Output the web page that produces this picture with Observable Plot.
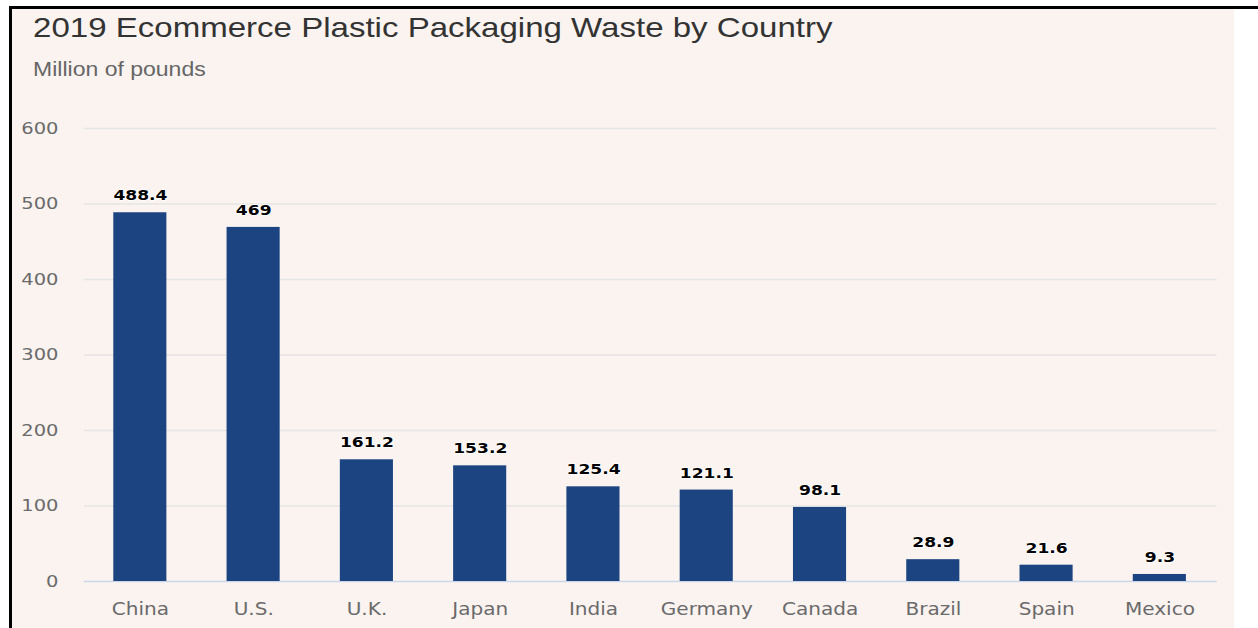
<!DOCTYPE html>
<html>
<head>
<meta charset="utf-8">
<script src="https://cdn.jsdelivr.net/npm/d3@7"></script>
<script src="https://cdn.jsdelivr.net/npm/@observablehq/plot@0.6"></script>
<style>
  html, body { margin: 0; padding: 0; background: #ffffff; }
  body { width: 1258px; height: 628px; position: relative; overflow: hidden; }
  #topline { position: absolute; left: 9px; top: 6px; width: 1249px; height: 3px; background: #000; }
  #panel { position: absolute; left: 9px; top: 9px; width: 1225px; height: 619px;
           border-left: 3px solid #000; background: #faf3f0; box-sizing: border-box; }
  #wrap { position: absolute; left: 0; top: 0; width: 1066px; height: 628px;
          transform: scaleX(1.18); transform-origin: 0 0; }
  #title { position: absolute; left: 28px; top: 14px; font-family: "Liberation Sans", Arial, sans-serif;
           font-size: 28px; line-height: 28px; color: #333; white-space: nowrap; }
  #subtitle { position: absolute; left: 28px; top: 60px; font-family: "Liberation Sans", Arial, sans-serif;
              font-size: 19.5px; line-height: 19.5px; color: #666; white-space: nowrap; }
  #chart { position: absolute; left: 0; top: 89px; }
</style>
</head>
<body>
<div id="panel"></div>
<div id="topline"></div>
<div id="wrap">
  <div id="title">2019 Ecommerce Plastic Packaging Waste by Country</div>
  <div id="subtitle">Million of pounds</div>
  <div id="chart"></div>
</div>
<script>
const countries = ["China", "U.S.", "U.K.", "Japan", "India", "Germany", "Canada", "Brazil", "Spain", "Mexico"];
const values = [488.4, 469, 161.2, 153.2, 125.4, 121.1, 98.1, 28.9, 21.6, 9.3];
const yTicks = [0, 100, 200, 300, 400, 500, 600];

const data = countries.map((c, i) => ({country: c, value: values[i]}));

const chart = Plot.plot({
  width: 1045,
  height: 537,
  marginLeft: 71,
  marginRight: 14,
  marginTop: 39,
  marginBottom: 45,
  style: {background: "transparent", fontFamily: "DejaVu Sans", fontSize: "16.5px", color: "#6a6a6a", overflow: "visible"},
  x: {domain: countries, paddingInner: 0.53, paddingOuter: 0.265, label: null},
  y: {domain: [0, 600], label: null},
  marks: [
    Plot.ruleY(yTicks.filter(d => d > 0), {stroke: "#e6e6e6", strokeWidth: 1.5}),
    Plot.ruleY([0], {stroke: "#ccd6eb", strokeWidth: 1.5}),
    Plot.barY(data, {x: "country", y: "value", fill: "#1c4480"}),
    Plot.text(data, {x: "country", y: "value", text: d => String(d.value), dy: -17,
      fontWeight: "bold", fontSize: 14.5, fill: "#000", stroke: "#ffffff", strokeWidth: 1.5}),
    Plot.axisX({tickSize: 0, tickPadding: 21, fontSize: 17, label: null}),
    Plot.axisY({ticks: yTicks, tickSize: 0, tickPadding: 22, label: null})
  ]
});
document.getElementById("chart").appendChild(chart);
</script>
</body>
</html>
